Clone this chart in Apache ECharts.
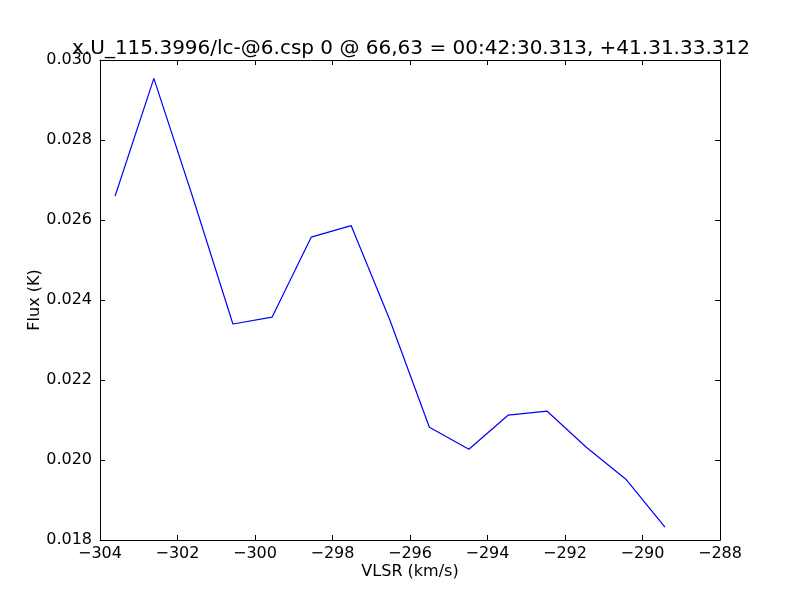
<!DOCTYPE html>
<html><head><meta charset="utf-8">
<script src="https://cdn.jsdelivr.net/npm/echarts@6/dist/echarts.min.js"></script>
<style>html,body{margin:0;padding:0;background:#fff}#c{width:800px;height:600px}</style>
</head><body><div id="c"></div>
<script>
var titleText = 'x.U_115.3996/lc-@6.csp 0 @ 66,63 = 00:42:30.313, +41.31.33.312';
var xLabel = 'VLSR (km/s)';
var yLabel = 'Flux (K)';
var velocity = [-303.61, -302.61, -301.60, -300.57, -299.56, -298.55, -297.52, -296.52, -295.50, -294.48, -293.47, -292.46, -291.45, -290.43, -289.42];
var flux = [0.02660, 0.02954, 0.02655, 0.02340, 0.02357, 0.02557, 0.02586, 0.02350, 0.02082, 0.02027, 0.02112, 0.02122, 0.02032, 0.01952, 0.01832];
var xMin = -304, xMax = -288, xStep = 2;
var yMin = 0.018, yMax = 0.030, yStep = 0.002;

var pts = velocity.map(function(v, i){ return [v, flux[i]]; });
var font = 'DejaVu Sans';
function minus(s){ return String(s).replace('-', '\u2212'); }
var tickStyle = {show:true, inside:true, length:5, lineStyle:{color:'#000', width:1}};
var lineStyle = {show:true, lineStyle:{color:'#000', width:1}};
var chart = echarts.init(document.getElementById('c'));
chart.setOption({
  animation:false,
  backgroundColor:'#fff',
  title:{text:titleText, left:406, textAlign:'center', top:34,
    textStyle:{fontFamily:font, fontSize:20, fontWeight:'normal', color:'#000'}},
  grid:{left:100, right:80, top:60, bottom:60, containLabel:false},
  xAxis:[{type:'value', min:xMin, max:xMax, interval:xStep, position:'bottom',
    name:xLabel, nameLocation:'middle', nameGap:24, nameMoveOverlap:false,
    nameTextStyle:{fontFamily:font, fontSize:16, color:'#000', verticalAlign:'top'},
    axisLine:lineStyle, axisTick:tickStyle, splitLine:{show:false},
    axisLabel:{fontFamily:font, fontSize:16, color:'#000', margin:6, formatter:function(v){return minus(v);}}},
   {type:'value', min:xMin, max:xMax, interval:xStep, position:'top',
    axisLine:lineStyle, axisTick:tickStyle, splitLine:{show:false}, axisLabel:{show:false}}],
  yAxis:[{type:'value', min:yMin, max:yMax, interval:yStep, position:'left',
    name:yLabel, nameLocation:'middle', nameGap:57, nameRotate:90, nameMoveOverlap:false,
    nameTextStyle:{fontFamily:font, fontSize:16, color:'#000'},
    axisLine:lineStyle, axisTick:tickStyle, splitLine:{show:false},
    axisLabel:{fontFamily:font, fontSize:16, color:'#000', margin:8, formatter:function(v){return v.toFixed(3);}}},
   {type:'value', min:yMin, max:yMax, interval:yStep, position:'right',
    axisLine:lineStyle, axisTick:tickStyle, splitLine:{show:false}, axisLabel:{show:false}}],
  series:[{type:'line', data:pts, xAxisIndex:0, yAxisIndex:0, showSymbol:false,
    lineStyle:{color:'#0000ff', width:1.2}, itemStyle:{color:'#0000ff'}}]
});
</script></body></html>
